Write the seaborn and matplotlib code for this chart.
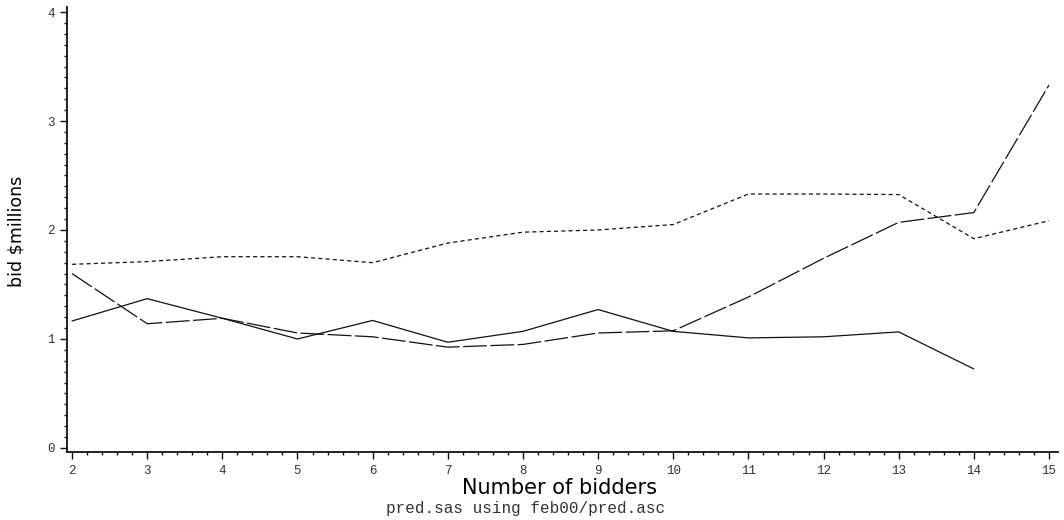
import numpy as np
import pandas as pd
import matplotlib
matplotlib.use("Agg")
import matplotlib.pyplot as plt
from matplotlib.ticker import MultipleLocator, FixedLocator
from matplotlib import font_manager
import seaborn as sns

# ---- data ----
bidders = [2, 3, 4, 5, 6, 7, 8, 9, 10, 11, 12, 13, 14, 15]
series_solid = [1.165, 1.37, 1.19, 1.00, 1.17, 0.97, 1.07, 1.27, 1.07, 1.01, 1.02, 1.065, 0.725, np.nan]
series_longdash = [1.60, 1.14, 1.19, 1.055, 1.02, 0.925, 0.95, 1.055, 1.075, 1.385, 1.74, 2.07, 2.16, 3.33]
series_shortdash = [1.685, 1.71, 1.755, 1.755, 1.70, 1.88, 1.98, 2.00, 2.05, 2.33, 2.33, 2.325, 1.92, 2.085]
series_names = ["A", "B", "C"]
x_ticks = list(range(2, 16))
y_ticks = [0, 1, 2, 3, 4]

df = pd.DataFrame({
    "bidders": bidders * 3,
    "bid": series_solid + series_longdash + series_shortdash,
    "series": [series_names[0]] * len(bidders) + [series_names[1]] * len(bidders) + [series_names[2]] * len(bidders),
}).dropna()

sns.set_style("ticks")
plt.rcParams["font.family"] = ["DejaVu Sans"]

installed = {f.name for f in font_manager.fontManager.ttflist}
narrow = "Liberation Sans Narrow" if "Liberation Sans Narrow" in installed else "DejaVu Sans"
narrow_size = 14 if narrow != "DejaVu Sans" else 12.5

fig = plt.figure(figsize=(10.64, 5.20), dpi=100)
ax = fig.add_axes([67 / 1064, 1 - 452 / 520, (1058 - 67) / 1064, (452 - 7) / 520])

sns.lineplot(
    data=df, x="bidders", y="bid", style="series", ax=ax,
    color="#111111", linewidth=0.9, legend=False,
    dashes={"A": "", "B": (19, 2.8), "C": (3.3, 2.5)},
    estimator=None, sort=True,
)

ax.set_xlim(1.933, 15.12)
ax.set_ylim(-0.037, 4.046)
ax.xaxis.set_major_locator(FixedLocator(x_ticks))
ax.xaxis.set_minor_locator(MultipleLocator(0.2))
ax.yaxis.set_major_locator(FixedLocator(y_ticks))
ax.yaxis.set_minor_locator(MultipleLocator(0.1))

mono = "Liberation Mono"
ax.set_xticklabels([str(v) for v in x_ticks], fontfamily=mono, fontsize=9, color="#333333")
ax.set_yticklabels([str(v) for v in y_ticks], fontfamily=mono, fontsize=9, color="#333333")

ax.tick_params(axis="both", which="major", direction="out", length=5, width=1.0, color="#111111", pad=4)
ax.tick_params(axis="both", which="minor", direction="out", length=2.5, width=1.0, color="#111111")

for s in ["top", "right"]:
    ax.spines[s].set_visible(False)
for s in ["left", "bottom"]:
    ax.spines[s].set_linewidth(1.3)
    ax.spines[s].set_color("#111111")

ax.set_xlabel("")
ax.set_ylabel("")
fig.text(560 / 1064, 1 - 488 / 520, "Number of bidders", ha="center", va="center",
         fontsize=15, family="DejaVu Sans", color="#000000")
fig.text(17 / 1064, 1 - 231 / 520, "bid $millions", ha="center", va="center", rotation=90,
         fontsize=narrow_size, family=narrow, color="#000000")
fig.text(526 / 1064, 1 - 508 / 520, "pred.sas using feb00/pred.asc", ha="center", va="center",
         fontsize=11.5, family=mono, color="#333333")

fig.savefig("out.png", dpi=100)
